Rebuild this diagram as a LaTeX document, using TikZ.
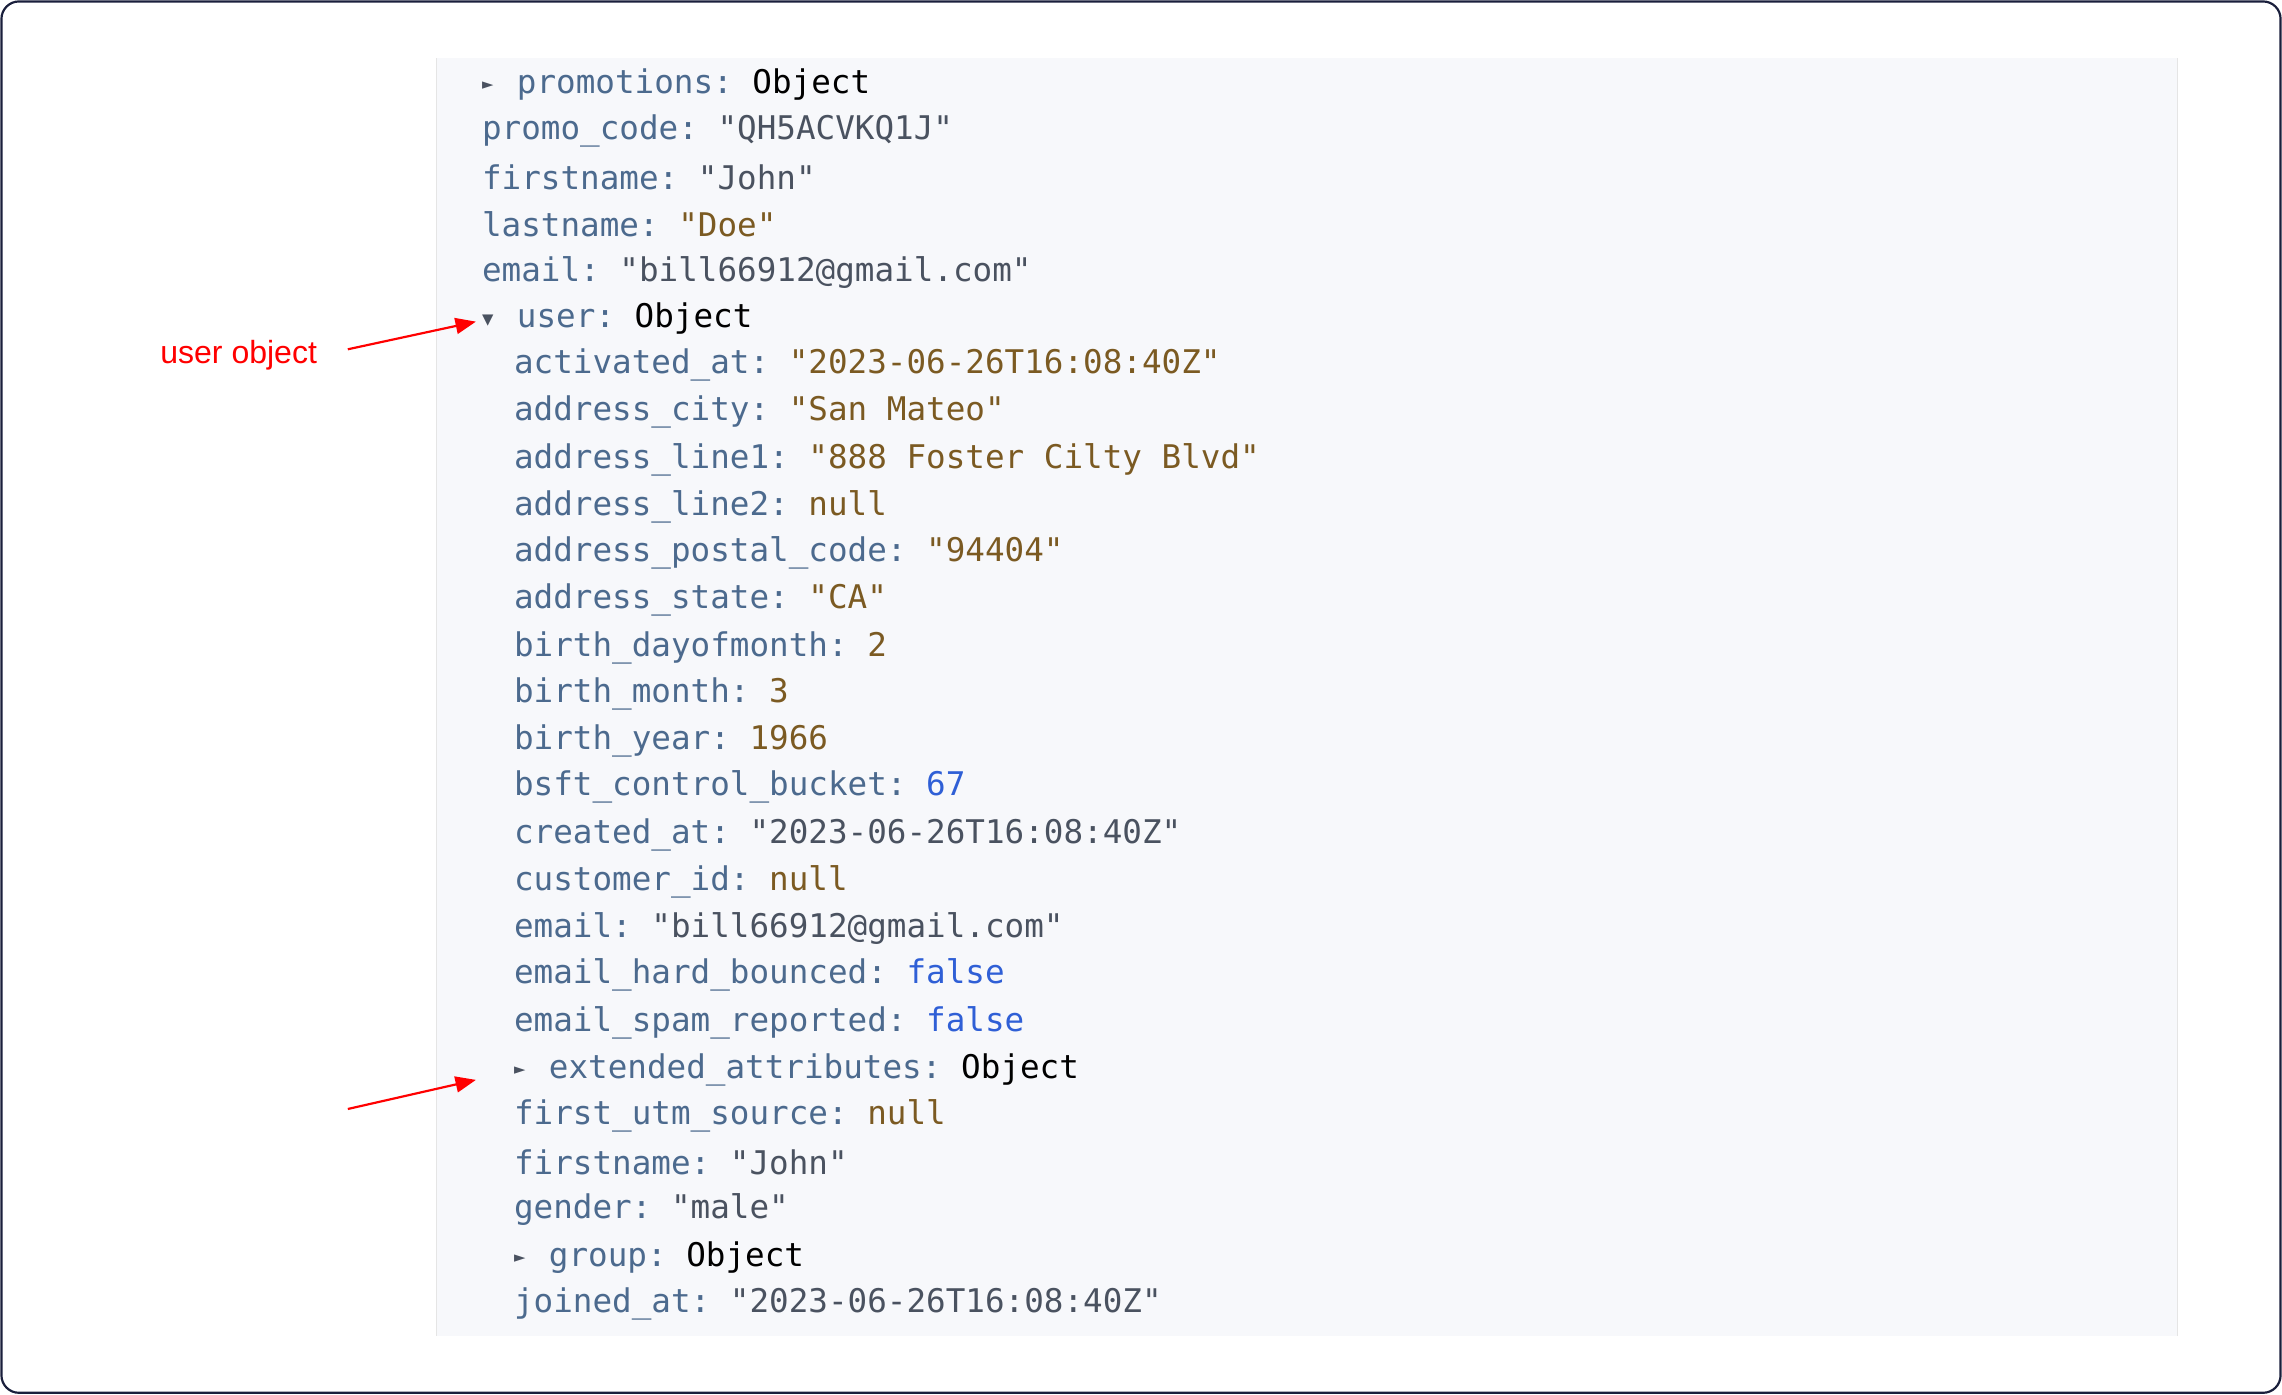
\documentclass[tikz,border=0pt]{standalone}
\usepackage{fontspec}
\setmainfont{Liberation Sans}
\setmonofont{DejaVu Sans Mono}
\usetikzlibrary{arrows.meta}
\definecolor{keyc}{HTML}{4C6A8E}
\definecolor{strc}{HTML}{7B5A22}
\definecolor{grayc}{HTML}{4A5260}
\definecolor{bluec}{HTML}{2F5FD6}
\definecolor{panel}{HTML}{F7F8FB}
\definecolor{frame}{HTML}{1A1F3C}
\newcommand{\kk}[1]{\textcolor{keyc}{#1}}
\newcommand{\vs}[1]{\textcolor{strc}{#1}}
\newcommand{\vg}[1]{\textcolor{grayc}{#1}}
\newcommand{\vb}[1]{\textcolor{bluec}{#1}}
\begin{document}
\begin{tikzpicture}[x=1pt,y=-1pt,
  ln/.style={anchor=west,inner sep=0pt,font=\ttfamily\fontsize{22.4}{26}\selectfont},
  tri/.style={anchor=west,inner sep=0pt,text=grayc,font=\ttfamily\fontsize{13}{15}\selectfont},
  redarr/.style={red,line width=1.5pt,-{Triangle[length=14pt,width=11pt]}}]
\useasboundingbox (0,0) rectangle (1568,958);
\draw[frame,line width=1.5pt,rounded corners=12pt] (1,1) rectangle (1567,957);
\fill[panel] (300,40) rectangle (1496,918);
\draw[gray!20,line width=1pt] (300,40) -- (300,918) (1496,40) -- (1496,918);
\node[tri] (t1) at (331,59) {►};
\node[ln] at (355,58) {\kk{promotions:} Object};
\node[ln] at (331,90) {\kk{promo\_code:} \vg{"QH5ACVKQ1J"}};
\node[ln] at (331,122) {\kk{firstname:} \vg{"John"}};
\node[ln] at (331,154) {\kk{lastname:} \vs{"Doe"}};
\node[ln] at (331,187) {\kk{email:} \vg{"bill66912@gmail.com"}};
\node[tri] (t2) at (331,220) {▼};
\node[ln] at (355,219) {\kk{user:} Object};
\node[ln] at (353,251) {\kk{activated\_at:} \vs{"2023-06-26T16:08:40Z"}};
\node[ln] at (353,283) {\kk{address\_city:} \vs{"San Mateo"}};
\node[ln] at (353,316) {\kk{address\_line1:} \vs{"888 Foster Cilty Blvd"}};
\node[ln] at (353,348) {\kk{address\_line2:} \vs{null}};
\node[ln] at (353,380) {\kk{address\_postal\_code:} \vs{"94404"}};
\node[ln] at (353,412) {\kk{address\_state:} \vs{"CA"}};
\node[ln] at (353,445) {\kk{birth\_dayofmonth:} \vs{2}};
\node[ln] at (353,477) {\kk{birth\_month:} \vs{3}};
\node[ln] at (353,509) {\kk{birth\_year:} \vs{1966}};
\node[ln] at (353,541) {\kk{bsft\_control\_bucket:} \vb{67}};
\node[ln] at (353,574) {\kk{created\_at:} \vg{"2023-06-26T16:08:40Z"}};
\node[ln] at (353,606) {\kk{customer\_id:} \vs{null}};
\node[ln] at (353,638) {\kk{email:} \vg{"bill66912@gmail.com"}};
\node[ln] at (353,670) {\kk{email\_hard\_bounced:} \vb{false}};
\node[ln] at (353,703) {\kk{email\_spam\_reported:} \vb{false}};
\node[tri] (t3) at (353,736) {►};
\node[ln] at (377,735) {\kk{extended\_attributes:} Object};
\node[ln] at (353,767) {\kk{first\_utm\_source:} \vs{null}};
\node[ln] at (353,799) {\kk{firstname:} \vg{"John"}};
\node[ln] at (353,831) {\kk{gender:} \vg{"male"}};
\node[tri] (t4) at (353,865) {►};
\node[ln] at (377,864) {\kk{group:} Object};
\node[ln] at (353,896) {\kk{joined\_at:} \vg{"2023-06-26T16:08:40Z"}};
\node[anchor=west,inner sep=0pt,text=red,font=\fontsize{22}{26}\selectfont] (lab) at (110,244) {user object};
\coordinate (a1) at (239,240);
\coordinate (a2) at (239,762);
\coordinate (e1) at (327,221);
\coordinate (e2) at (327,742);
\draw[redarr] (a1) -- (e1);
\draw[redarr] (a2) -- (e2);
\end{tikzpicture}
\end{document}
